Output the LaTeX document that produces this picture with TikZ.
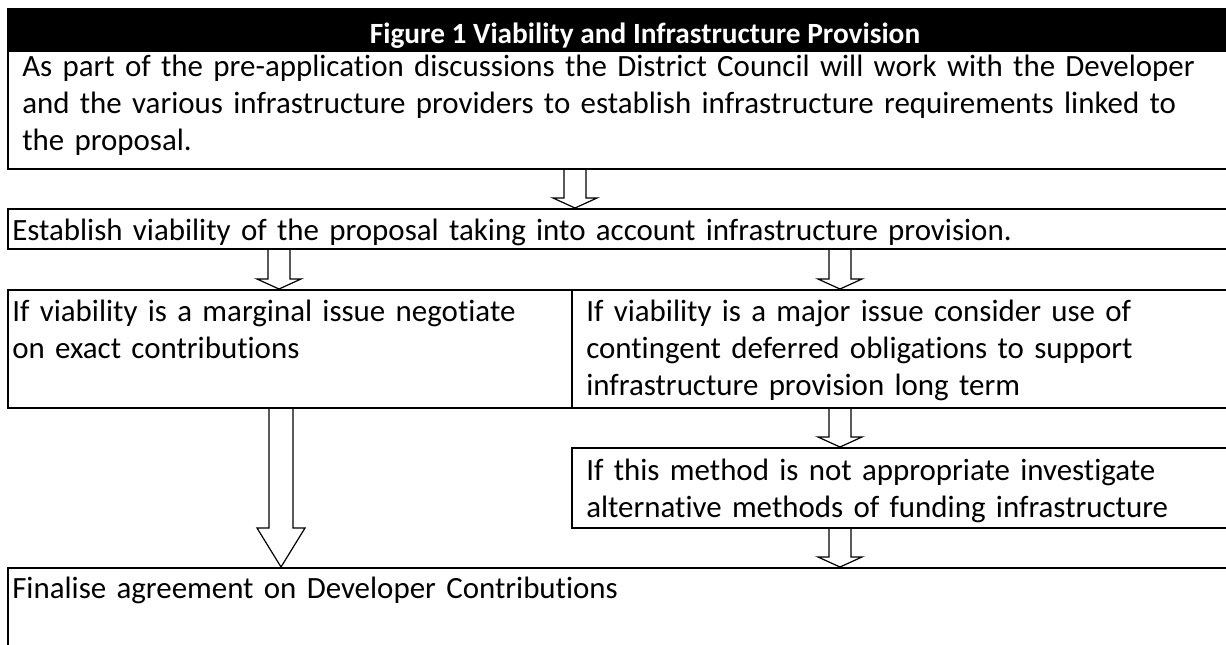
\documentclass[tikz,border=0pt]{standalone}
\usepackage{fontspec}
\setmainfont{Carlito}[Ligatures=NoCommon]
\usetikzlibrary{calc,fit}

\tikzset{
  box/.style={draw, line width=1.5pt, inner sep=0pt},
  titlebar/.style={box, fill=black},
  titletxt/.style={anchor=base, inner sep=0pt, text=white, font=\bfseries\fontsize{22}{26}\selectfont},
  txt/.style={anchor=base west, inner sep=0pt, text width=900pt, align=left, font=\fontsize{23.2}{28.1}\selectfont},
  blockarrow/.style args={#1/#2/#3}{draw, line width=0.9pt, to path={let \p1=(\tikztostart), \p2=(\tikztotarget) in
    (\x1-#1,\y1) -- (\x1-#1,\y2-#3) -- (\x1-#2,\y2-#3) -- (\x2,\y2) -- (\x1+#2,\y2-#3) -- (\x1+#1,\y2-#3) -- (\x1+#1,\y1)}},
  flow/.style={blockarrow=8.25pt/16.5pt/7.5pt},
  longflow/.style={blockarrow=9pt/18pt/29.25pt},
}

\begin{document}
\begin{tikzpicture}[x=0.75pt,y=0.75pt,yscale=-1,xscale=1]
\clip (0,0) rectangle (1226,644);

%Shape: Rectangle [title bar]
\node [titlebar, fit={(8,9) (1282,51)}] (bar) {};
%Shape: Rectangle [boxes]
\node [box, fit={(8,51) (1282,169)}] (b1) {};
\node [box, fit={(8,209) (1282,249)}] (b2) {};
\node [box, fit={(8,290) (572,408)}] (b3l) {};
\node [box, fit={(572,290) (1282,408)}] (b3r) {};
\node [box, fit={(572,448) (1282,528)}] (b4) {};
\node [box, fit={(8,568) (1282,700)}] (b5) {};

% arrow columns
\coordinate (colmid) at (575,0);
\coordinate (colleft) at (279,0);
\coordinate (colright) at (840,0);
\coordinate (colbig) at (281,0);

%Straight Lines [block arrows]
\draw [flow] (b1.south -| colmid) to (b2.north -| colmid);
\draw [flow] (b2.south -| colleft) to (b3l.north -| colleft);
\draw [flow] (b2.south -| colright) to (b3r.north -| colright);
\draw [flow] (b3r.south -| colright) to (b4.north -| colright);
\draw [flow] (b4.south -| colright) to (b5.north -| colright);
\draw [longflow] (b3l.south -| colbig) to (b5.north -| colbig);

% Text Node
\node [titletxt] (title) at (645,43) {Figure 1 Viability and Infrastructure Provision};
% Text Node
\node [txt] (t1) at (22,76) {As part of the pre-application discussions the District Council will work with the Developer\\ and the various infrastructure providers to establish infrastructure requirements linked to\\ the proposal.};
% Text Node
\node [txt] (t2) at (12,240) {Establish viability of the proposal taking into account infrastructure provision.};
% Text Node
\node [txt] (t3) at (12,321) {If viability is a marginal issue negotiate\\ on exact contributions};
% Text Node
\node [txt] (t4) at (586,321) {If viability is a major issue consider use of\\ contingent deferred obligations to support\\ infrastructure provision long term};
% Text Node
\node [txt] (t5) at (586,480) {If this method is not appropriate investigate\\ alternative methods of funding infrastructure};
% Text Node
\node [txt] (t6) at (12,598) {Finalise agreement on Developer Contributions};

\end{tikzpicture}
\end{document}
